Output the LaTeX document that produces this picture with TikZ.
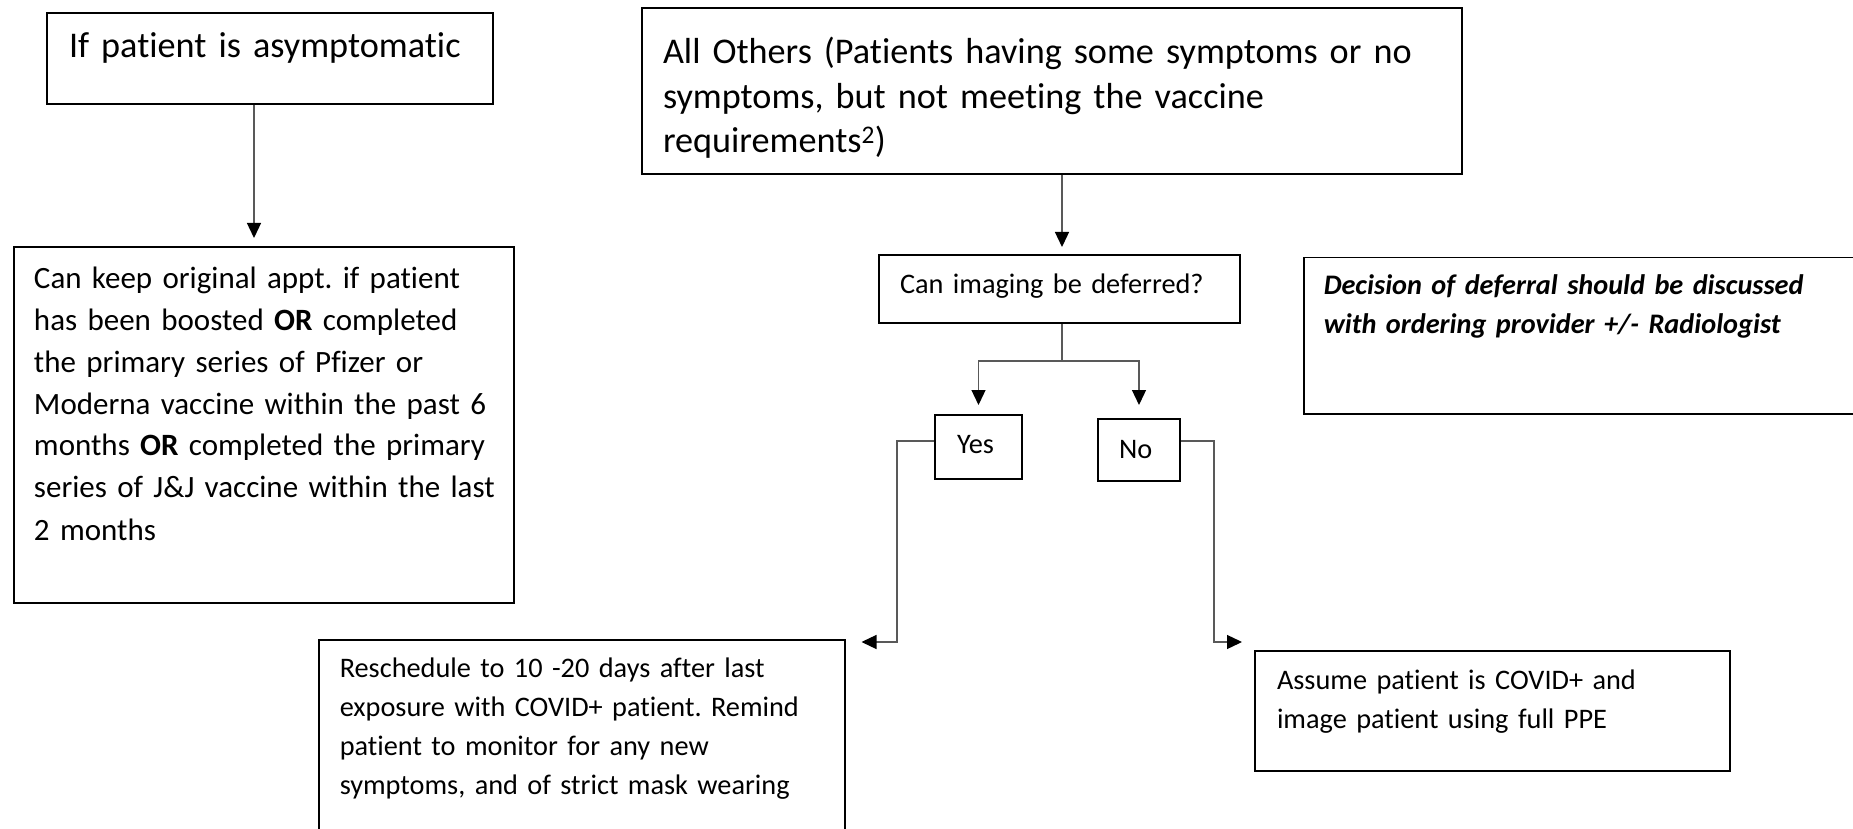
\documentclass[tikz,border=0pt]{standalone}
\usepackage{fontspec}
\setmainfont{Carlito}[Ligatures=NoCommon]
\frenchspacing
\usetikzlibrary{arrows.meta}

\definecolor{linegray}{RGB}{89,89,89}

\begin{document}
\begin{tikzpicture}[x=1pt,y=-1pt,
  box/.style={draw=black, line width=2pt, anchor=north west, align=left, inner ysep=0pt,
    execute at begin node={\hyphenpenalty=10000\rightskip=0pt plus 1fil minus 40pt\relax}},
  bigtxt/.style={font=\fontsize{36.2}{44.5}\selectfont},
  midtxt/.style={font=\fontsize{31}{42}\selectfont},
  smalltxt/.style={font=\fontsize{28.3}{39}\selectfont},
  link/.style={draw=linegray, line width=1.3pt},
  arr/.style={link, -{Triangle[length=15pt,width=14pt,color=black]}}]
\useasboundingbox (0,0) rectangle (1853,829);
\clip (0,0) rectangle (1853,829);

% Asymptomatic patients
\node[box, bigtxt, inner xsep=22pt, text width=402pt, text height=45pt, text depth=46pt] (asym) at (46,12) {If patient is asymptomatic};
\node[box, midtxt, inner xsep=20pt, text width=460pt, text height=41pt, text depth=315pt] (keep) at (13,246)
  {Can keep original appt. if patient\\ has been boosted \textbf{OR} completed\\ the primary series of Pfizer or\\ Moderna vaccine within the past 6\\ months \textbf{OR} completed the primary\\ series of J\&J vaccine within the last\\ 2 months};

% All others
\node[box, bigtxt, inner xsep=21pt, text width=778pt, text height=56pt, text depth=110pt] (others) at (641,7)
  {All Others (Patients having some symptoms or no\\ symptoms, but not meeting the vaccine\\ requirements\textsuperscript{2})};
\node[box, smalltxt, inner xsep=21pt, text width=319pt, text height=38pt, text depth=30pt] (defer) at (878,254) {Can imaging be deferred?};
\node[box, smalltxt, line width=1.5pt, inner xsep=20pt, text width=560pt, text height=37pt, text depth=119pt] (note) at (1303,257)
  {\bfseries\itshape Decision of deferral should be discussed\\ with ordering provider +/- Radiologist};

% Yes / No
\node[box, smalltxt, inner xsep=22pt, text width=43pt, text height=38pt, text depth=26pt] (yes) at (934,414) {Yes};
\node[box, smalltxt, inner xsep=21pt, text width=40pt, text height=39pt, text depth=23pt] (no) at (1097,418) {No};

% Outcomes
\node[box, smalltxt, line width=1.5pt, inner xsep=21pt, text width=484pt, text height=38pt, text depth=200pt] (resched) at (318,639)
  {Reschedule to 10 -20 days after last\\ exposure with COVID+ patient. Remind\\ patient to monitor for any new\\ symptoms, and of strict mask wearing};
\node[box, smalltxt, inner xsep=22pt, text width=431pt, text height=38pt, text depth=82pt] (assume) at (1254,650)
  {Assume patient is COVID+ and\\ image patient using full PPE};

% Connectors
\draw[arr, shorten >=8pt] ([xshift=-16pt]asym.south) -- ([xshift=-16pt]asym.south |- keep.north);
\draw[arr, shorten >=7pt] ([xshift=2.5pt]defer.north |- others.south) -- ([xshift=2.5pt]defer.north);
\draw[link] ([xshift=2.5pt]defer.south) -- ++(0,37) coordinate (split);
\draw[arr, shorten >=9pt] (split) -| (yes.north);
\draw[arr, shorten >=13pt] (split) -| (no.north);
\draw[arr] ([yshift=6pt]yes.west) -- ++(-37,0) |- ([xshift=16pt,yshift=-3pt]resched.north east);
\draw[arr] ([yshift=9pt]no.east) -- ++(33,0) |- ([xshift=-12pt,yshift=8pt]assume.north west);
\end{tikzpicture}
\end{document}
